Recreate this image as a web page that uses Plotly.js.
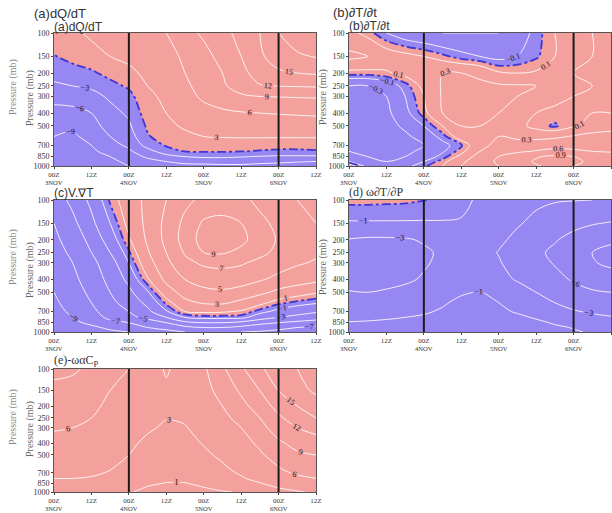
<!DOCTYPE html>
<html><head><meta charset="utf-8">
<script src="https://cdn.plot.ly/plotly-3.0.1.min.js"></script>
<style>html,body{margin:0;padding:0;background:#fff;}#chart{width:612px;height:513px;}</style>
</head><body><div id="chart"></div>
<script>
// ---- data ----
const hours = [0,6,12,18,24,30,36,42,48,54,60,66,72,78,84];
const pressure = [1000,925,850,775,700,600,500,400,300,250,200,150,100];
const xTickVals = [0,12,24,36,48,60,72,84];
const xTickText = ['00Z','12Z','00Z','12Z','00Z','12Z','00Z','12Z'];
const dayHours = [0,24,48,72];
const dayText = ['3NOV','4NOV','5NOV','6NOV'];
const yTickVals = [100,150,200,250,300,400,500,700,850,1000];
const frontHours = [24,72];

// (a) dQ/dT  rows follow `pressure`
const zA = [
 [-11,-11,-11,-10,-9,-8,-7.5,-7,-6.8,-6.5,-6.5,-6.8,-7,-7.3,-7.5],
 [-11,-11,-10.5,-9.5,-8.5,-7,-6,-5,-5,-5,-5,-5.3,-5.5,-5.8,-6],
 [-10.5,-11,-10,-9,-7.5,-5.5,-4,-3,-2.5,-2.5,-2.8,-3.2,-3.5,-3.5,-3.5],
 [-10,-10.5,-9.5,-8,-6.5,-4,-1.5,0.2,0.3,0.3,0.1,-0.2,-0.5,-0.5,-0.3],
 [-9.5,-10,-9,-7,-5.5,-2,0.3,1.2,1.5,1.5,1.3,1.2,1,1,1.2],
 [-9,-9.5,-8,-6,-4.5,-0.3,1.5,2.5,3,3.2,3.3,3.3,3.3,3.3,3.3],
 [-8,-8.5,-7,-5,-3.5,0.5,2.5,3.3,4,4.3,4.5,4.8,5,5,5],
 [-7,-7,-6,-4,-2.5,1.5,3,4,5,5.5,5.8,6,6.1,6.2,6.3],
 [-5,-4.5,-4,-2.5,-1,2.5,3.5,5,6.5,7.5,8.5,9,9.1,9.2,9.3],
 [-3.5,-3,-2.5,-1,0.5,3,4,5.5,7,8.5,10.5,11.8,12.1,12.2,12.3],
 [-2,-1.3,-0.5,1,2.5,3.5,4.5,6,7.5,9,11,13.5,14.5,15,15.3],
 [-0.2,1,2,3,3.5,4,5,6.5,8,10,12,14.5,16.5,17.5,18.2],
 [2,2.5,3.5,4,4.5,5,6,8,9.5,11,13,15,18,20,22]
];
const levelsA = [-9,-6,-3,3,6,9,12,15,18];

// (b) dT/dt
const zB = [
 [0.3,-0.2,-0.2,-0.15,-0.02,0.1,0.3,0.45,0.6,0.75,0.88,0.95,0.9,0.82,0.72],
 [-0.1,-0.2,-0.3,-0.2,-0.1,0.05,0.25,0.45,0.65,0.8,0.93,1.0,0.95,0.85,0.75],
 [-0.15,-0.3,-0.35,-0.3,-0.2,-0.05,0.15,0.4,0.6,0.75,0.88,0.95,0.9,0.8,0.7],
 [-0.3,-0.35,-0.4,-0.35,-0.25,-0.12,0.05,0.3,0.45,0.55,0.62,0.68,0.65,0.6,0.58],
 [-0.35,-0.4,-0.45,-0.4,-0.3,-0.15,-0.02,0.25,0.35,0.4,0.45,0.5,0.5,0.5,0.48],
 [-0.4,-0.45,-0.45,-0.35,-0.2,-0.05,0.2,0.3,0.3,0.25,0.22,0.25,0.32,0.38,0.4],
 [-0.45,-0.45,-0.4,-0.25,-0.1,0.1,0.3,0.3,0.25,0.15,0.05,-0.02,0.08,0.15,0.2],
 [-0.45,-0.45,-0.35,-0.15,0.05,0.3,0.35,0.33,0.3,0.2,0.1,0.06,0.08,0.1,0.1],
 [-0.4,-0.4,-0.3,-0.1,0.1,0.32,0.35,0.35,0.35,0.3,0.25,0.15,0.1,0.1,0.1],
 [-0.3,-0.3,-0.2,-0.05,0.15,0.32,0.35,0.35,0.33,0.32,0.3,0.2,0.12,0.1,0.08],
 [0.05,0.05,0.08,0.15,0.25,0.3,0.3,0.25,0.12,0.1,0.12,0.12,0.1,0.08,0.05],
 [0.35,0.3,0.2,0.15,0.1,0.03,-0.05,-0.1,-0.15,-0.1,-0.02,0.1,0.15,0.1,0.02],
 [0.15,0.05,-0.1,-0.2,-0.25,-0.3,-0.3,-0.3,-0.3,-0.2,-0.05,0.1,0.15,0.1,0.05]
];
const levelsB = [-0.3,-0.1,0.1,0.3,0.6,0.9];

// (c) V.gradT
const zC = [
 [-10.8,-10.5,-10,-9.5,-9,-8,-7.5,-7,-6.5,-6.5,-7,-7.2,-7.5,-7.8,-8],
 [-10.5,-10,-9.5,-8.5,-8,-7,-6.5,-5.5,-5,-5,-5.5,-6,-6.5,-7,-7.3],
 [-10,-9.5,-8.5,-7.5,-7,-6,-5,-3.5,-3,-3,-3.5,-4.5,-5,-5.5,-6],
 [-9.8,-9,-8,-6.5,-5.5,-4.5,-3,-1,-0.5,-0.5,-0.5,-2,-3,-3.5,-4],
 [-9.5,-8.7,-7.5,-6,-5,-3.5,-1.2,1,1.3,1.2,0.8,-0.5,-1.5,-2.3,-2.8],
 [-9.3,-8.3,-7,-5.5,-4.2,-2.5,0.3,2.5,3.2,3.3,2.5,1.5,0.3,-0.3,-0.8],
 [-9,-8,-6.5,-5,-3.5,-1.2,2,3.8,4.5,4.7,4.3,3.5,2.5,1.8,1.2],
 [-8.7,-7.5,-6,-4.5,-2.5,0.8,3.5,5,5.8,6,5.8,5.2,4.5,4,3.5],
 [-8.3,-7,-5.5,-4,-1,2.2,4.5,6.5,7.3,7.5,7.2,6.5,5.8,5.2,4.8],
 [-8,-6.5,-5,-3,-0.2,2.8,5,7.2,9,9.2,8.5,7.5,6.5,5.8,5.3],
 [-7.5,-6,-4.5,-2,0.8,3.3,5.5,7.8,9.8,10.2,9.5,8,6.8,6,5.5],
 [-7,-5.5,-3.5,-1,1.5,3.5,5.5,7.5,9.3,9.6,9,7.5,6.5,5.5,5],
 [-6,-4.5,-2.5,0.2,2,3.5,5,6.5,7.5,7.8,7.5,6.5,5.5,5,4.5]
];
const levelsC = [-11,-9,-7,-5,-3,-1,1,3,5,7,9];

// (d) omega dT/dP
const zD = [
 [-0.7,-0.65,-0.6,-0.55,-0.5,-0.45,-0.4,-0.4,-0.45,-0.5,-0.6,-0.75,-0.9,-1.1,-1.3],
 [-0.8,-0.75,-0.7,-0.65,-0.6,-0.5,-0.45,-0.45,-0.5,-0.6,-0.7,-0.85,-1.05,-1.3,-1.5],
 [-0.95,-0.9,-0.85,-0.8,-0.7,-0.6,-0.5,-0.5,-0.55,-0.65,-0.8,-1.1,-1.4,-1.8,-2.1],
 [-1.2,-1.2,-1.1,-1,-0.9,-0.7,-0.6,-0.6,-0.7,-0.8,-1.1,-1.5,-2,-2.5,-2.8],
 [-1.6,-1.6,-1.5,-1.3,-1.1,-0.9,-0.7,-0.7,-0.8,-1.1,-1.6,-2.2,-2.8,-3.3,-3.8],
 [-2.2,-2.2,-2,-1.8,-1.5,-1.1,-0.8,-0.8,-1,-1.5,-2.2,-3,-3.8,-4.5,-5],
 [-2.9,-3,-2.8,-2.5,-2,-1.5,-1.1,-0.95,-1.3,-2,-3,-4,-5,-5.7,-6],
 [-3.7,-3.8,-3.6,-3.3,-2.8,-2.3,-1.8,-1.7,-2.3,-3.2,-4.2,-5.2,-6.3,-7.2,-7.8],
 [-4,-4.1,-4,-3.7,-3.2,-2.6,-2,-2,-2.8,-4,-5,-6.2,-7.5,-8.8,-9.5],
 [-3.8,-4,-3.9,-3.6,-3.3,-2.7,-2,-2.1,-3.1,-4.3,-5.5,-6.5,-7.8,-9,-9.8],
 [-3.1,-3.3,-3.3,-3.2,-2.8,-2.2,-1.8,-1.9,-2.6,-3.5,-4.5,-5.8,-6.8,-7.8,-8.5],
 [-1.15,-1.15,-1.15,-1.15,-1.15,-1.1,-1.1,-1.3,-2,-2.8,-3.5,-4.5,-5.3,-5.8,-6.2],
 [0.3,0.3,0.25,0.2,0.05,-0.3,-0.7,-1.2,-1.8,-2.3,-2.6,-2.8,-2.9,-3,-3]
];
const levelsD = [-9,-6,-3,-1];

// (e) -omega alpha / Cp
const zE = [
 [2,1.9,1.7,1.5,1.1,0.7,0.5,0.5,0.7,0.9,1.1,1.6,2.2,2.8,3.3],
 [2.3,2.2,2,1.8,1.4,0.9,0.7,0.7,0.95,1.3,1.7,2.3,3,3.6,4.1],
 [2.7,2.6,2.5,2.2,1.8,1.2,0.95,0.95,1.3,1.7,2.2,2.9,3.8,4.5,5],
 [3,3,2.9,2.6,2.1,1.5,1.3,1.3,1.7,2.2,2.8,3.6,4.7,5.5,6],
 [3.4,3.4,3.2,2.9,2.4,1.8,1.6,1.6,2,2.5,3.2,4.1,5.5,6.3,6.8],
 [4,3.9,3.6,3.2,2.7,2.1,1.9,1.9,2.3,2.9,3.7,4.8,6.2,7.2,7.8],
 [4.7,4.5,4.1,3.6,3,2.4,2.1,2.2,2.7,3.3,4.3,5.6,7.2,8.5,9],
 [5.3,5.1,4.7,4,3.3,2.7,2.4,2.5,3.1,3.8,5,6.5,8.5,10,10.8],
 [6.2,6,5.5,4.8,4,3.2,2.8,2.9,3.6,4.6,6,8,10.5,12,13],
 [6.8,6.5,6,5.2,4.2,3.5,3.05,3.2,4,5.2,7,9,11.5,13.5,15],
 [7.3,7,6.5,5.5,4.5,3.8,3.3,3.5,4.5,6,8,10.5,13,15,16.5],
 [8,7.8,7,6,5,4,3.3,3.8,5,7,9.5,12,15,17,18.5],
 [10,9.5,8.3,7,6,4,2.8,3.8,5.5,8.5,11.5,14.5,16.5,18,20]
];
const levelsE = [1,3,6,9,12,15,18];

// ---- styling / layout ----
const W = 612, H = 513;
const RED = '#F4A19E', BLUE = '#9787F3';
const px = v => v / W, py = v => 1 - v / H;
const panels = [
  {z: zA, levels: levelsA, box: [54,316,33,166], zero: true},
  {z: zB, levels: levelsB, box: [349,611,33,166], zero: true},
  {z: zC, levels: levelsC, box: [54,316,200,332], zero: true},
  {z: zD, levels: levelsD, box: [349,611,200,332], zero: true},
  {z: zE, levels: levelsE, box: [54,316,369,492], zero: false}
];

const traces = [];
const layout = {
  width: W, height: H, margin: {l:0, r:0, t:0, b:0},
  paper_bgcolor: '#fff', plot_bgcolor: '#fff', showlegend: false,
  shapes: [], annotations: []
};
const tickFont = {family: 'Liberation Serif', size: 8, color: '#333'};

panels.forEach((p, i) => {
  const n = i + 1;
  const xa = 'x' + (n === 1 ? '' : n), ya = 'y' + (n === 1 ? '' : n);
  const base = {type: 'contour', x: hours, y: pressure, z: p.z, xaxis: xa, yaxis: ya,
    showscale: false, hoverinfo: 'skip', autocontour: false};
  traces.push(Object.assign({}, base, {
    contours: {start: 0, end: 0, size: 1, coloring: 'fill', showlines: false},
    colorscale: [[0, BLUE], [1, RED]], line: {width: 0}
  }));
  p.levels.forEach(L => traces.push(Object.assign({}, base, {
    contours: {start: L, end: L, size: 1, coloring: 'none', showlabels: true,
      labelformat: '~g', labelfont: {family: 'Liberation Serif', size: 8, color: '#111'}},
    line: {color: 'rgba(255,255,255,0.85)', width: 1, smoothing: 1}
  })));
  if (p.zero) traces.push(Object.assign({}, base, {
    contours: {start: 0, end: 0, size: 1, coloring: 'none', showlabels: false},
    line: {color: '#3b36d6', width: 1.8, dash: 'dashdot', smoothing: 1}
  }));
  const [x0, x1, y0, y1] = p.box;
  layout['xaxis' + (n === 1 ? '' : n)] = {
    domain: [px(x0), px(x1)], anchor: ya, range: [0, 84],
    tickvals: xTickVals, ticktext: xTickText, tickfont: {family: 'Liberation Serif', size: 7, color: '#333'},
    ticks: 'outside', ticklen: 2, tickcolor: '#444', showline: true, linecolor: '#555', mirror: true,
    showgrid: false, zeroline: false, fixedrange: true
  };
  layout['yaxis' + (n === 1 ? '' : n)] = {
    domain: [py(y1), py(y0)], anchor: xa, type: 'log', range: [3, 2],
    tickvals: yTickVals, ticktext: yTickVals.map(String), tickfont: tickFont,
    ticks: 'outside', ticklen: 2, tickcolor: '#444', showline: true, linecolor: '#555', mirror: true,
    showgrid: false, zeroline: false, fixedrange: true
  };
  frontHours.forEach(h => layout.shapes.push({
    type: 'line', xref: xa, yref: ya + ' domain', x0: h, x1: h, y0: 0, y1: 1,
    line: {color: '#1a1a1a', width: 2}
  }));
  // date line under the 00Z ticks
  dayHours.forEach((h, k) => layout.annotations.push({
    text: dayText[k], xref: xa, yref: 'paper', x: h, y: py(y1 + 16),
    xanchor: 'center', yanchor: 'middle', showarrow: false,
    font: {family: 'Liberation Serif', size: 6.5, color: '#333'}
  }));
});

function txt(text, x, y, size, color, family, angle) {
  layout.annotations.push({text, xref: 'paper', yref: 'paper', x: px(x), y: py(y),
    xanchor: angle ? 'center' : 'left', yanchor: 'middle', showarrow: false, textangle: angle || 0,
    font: {size, color, family}});
}
const sans = 'Liberation Sans', serif = 'Liberation Serif';
txt('(a)dQ/dT', 32, 13, 13, '#333', sans);
txt('(a)dQ/dT', 52, 27, 12, '#333', sans);
txt('(b)∂T/∂t', 331, 12, 13, '#333', sans);
txt('(b)∂T/∂t', 347, 26, 12, '#333', sans);
txt('(c)V.∇T', 52, 193, 12, '#333', sans);
txt('(d) ω∂T/∂P', 347, 192, 12, '#333', serif);
txt('(e)-ωαC<sub>P</sub>', 52, 361, 12, '#333', serif);
// y axis titles (two overlapped copies on the left column)
txt('Pressure (mb)', 13, 87, 10, '#888', serif, -90);
txt('Pressure (mb)', 30, 98, 10, '#666', serif, -90);
txt('Pressure (mb)', 323, 97, 10, '#666', serif, -90);
txt('Pressure (mb)', 13, 257, 10, '#888', serif, -90);
txt('Pressure (mb)', 30, 270, 10, '#666', serif, -90);
txt('Pressure (mb)', 323, 267, 10, '#666', serif, -90);
txt('Pressure (mb)', 13, 417, 10, '#888', serif, -90);
txt('Pressure (mb)', 30, 429, 10, '#666', serif, -90);

Plotly.newPlot('chart', traces, layout, {staticPlot: true, displayModeBar: false});
</script></body></html>
